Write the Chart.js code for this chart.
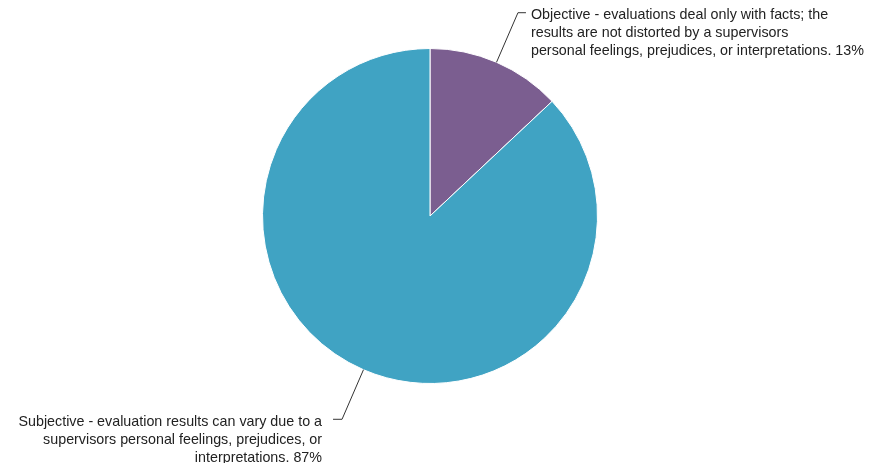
<!DOCTYPE html>
<html>
<head>
<meta charset="utf-8">
<script src="https://cdn.jsdelivr.net/npm/chart.js@4"></script>
<style>
  html, body { margin: 0; padding: 0; background: #fff; }
  #wrap { width: 876px; height: 468px; }
</style>
</head>
<body>
<div id="wrap"><canvas id="myChart"></canvas></div>
<script>
// categories (already broken into lines like the original)
let labelData = [
  ["Objective - evaluations deal only with facts; the",
   "results are not distorted by a supervisors",
   "personal feelings, prejudices, or interpretations. 13%"],
  ["Subjective - evaluation results can vary due to a",
   "supervisors personal feelings, prejudices, or",
   "interpretations. 87%"],
];
let percentData = [13, 87];
let colorData = ["#7b5e90", "#40a3c3"];

// draws leader lines + wrapped labels outside the slices
const outsideLabels = {
  id: "outsideLabels",
  afterDraw(chart) {
    const ctx = chart.ctx;
    const meta = chart.getDatasetMeta(0);
    ctx.save();
    // original clips the labels a few px above the bottom edge
    ctx.beginPath();
    ctx.rect(0, 0, chart.width, chart.height - 5);
    ctx.clip();
    ctx.font = "14.3px 'Liberation Sans', Arial, sans-serif";
    ctx.textBaseline = "middle";
    meta.data.forEach((arc, i) => {
      const p = arc.getProps(["x", "y", "startAngle", "endAngle", "outerRadius"], true);
      const mid = (p.startAngle + p.endAngle) / 2;
      const cx = Math.cos(mid), cy = Math.sin(mid);
      const ax = p.x + cx * p.outerRadius, ay = p.y + cy * p.outerRadius;
      const ex = p.x + cx * (p.outerRadius + 54), ey = p.y + cy * (p.outerRadius + 54);
      const right = cx >= 0;
      const hx = ex + (right ? 8 : -9);
      ctx.strokeStyle = "#333";
      ctx.lineWidth = 1;
      ctx.beginPath();
      ctx.moveTo(ax, ay);
      ctx.lineTo(ex, ey);
      ctx.lineTo(hx, ey);
      ctx.stroke();
      ctx.fillStyle = "#222";
      ctx.textAlign = right ? "left" : "right";
      const tx = hx + (right ? 5 : -11);
      labelData[i].forEach((line, k) => {
        ctx.fillText(line, tx, ey + 2.5 + k * 18);
      });
    });
    ctx.restore();
  },
};

const config = {
  type: "pie",
  data: {
    labels: labelData,
    datasets: [
      {
        data: percentData,
        backgroundColor: colorData,
        borderColor: "#ffffff",
        borderWidth: 1,
      },
    ],
  },
  options: {
    responsive: true,
    maintainAspectRatio: false,
    animation: false,
    layout: {
      padding: { top: 48, bottom: 84, left: 0, right: 16 },
    },
    plugins: {
      legend: { display: false },
      tooltip: { enabled: false },
    },
  },
  plugins: [outsideLabels],
};

let myChart = new Chart(document.getElementById("myChart"), config);
</script>
</body>
</html>
